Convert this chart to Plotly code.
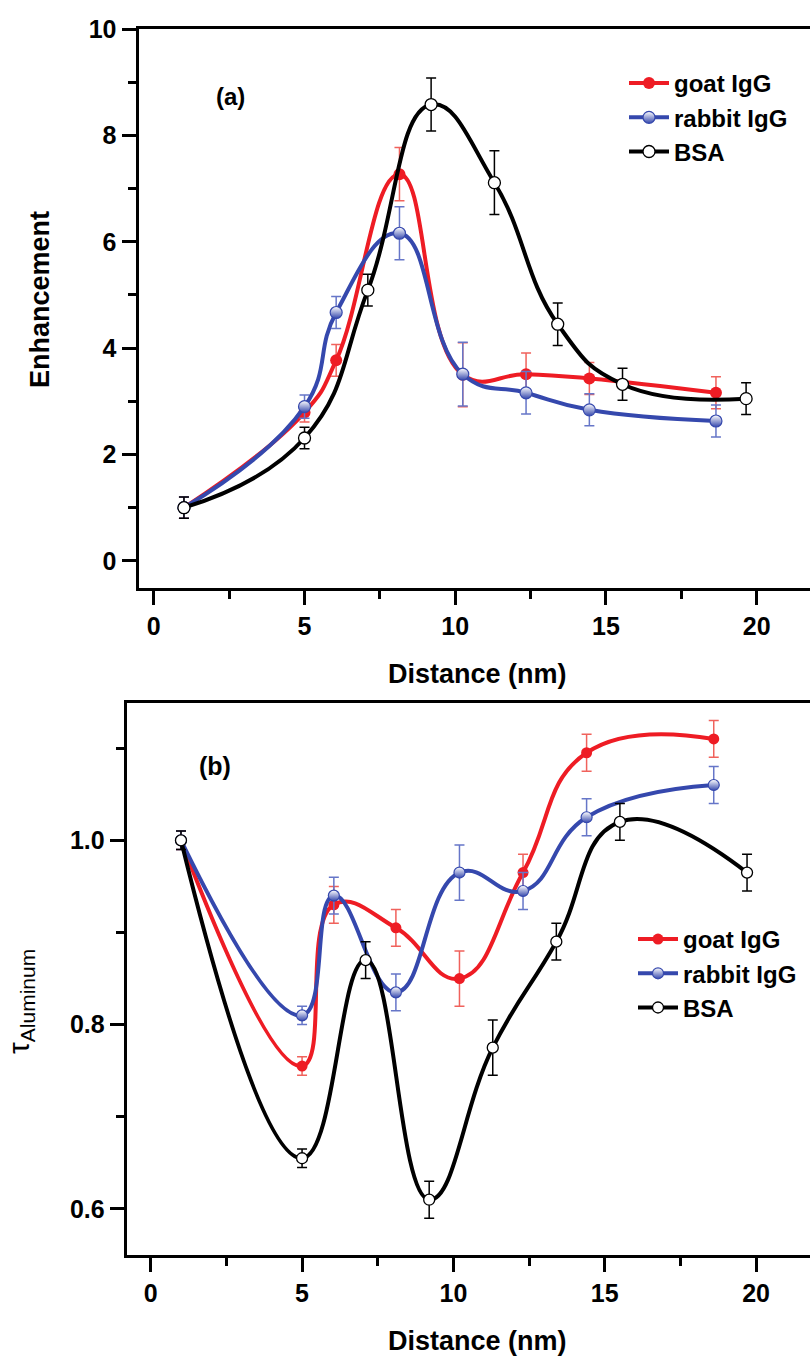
import plotly.graph_objects as go

W, H = 810, 1361

# ---------------- Data: panel (a) Enhancement ----------------
a_goat_x = [1.0, 5.0, 6.05, 8.15, 10.25, 12.35, 14.45, 18.65]
a_goat_y = [1.0, 2.79, 3.77, 7.27, 3.50, 3.51, 3.43, 3.16]
a_goat_err = [0.2, 0.18, 0.3, 0.5, 0.6, 0.4, 0.3, 0.3]

a_rabbit_x = [1.0, 5.0, 6.05, 8.15, 10.25, 12.35, 14.45, 18.65]
a_rabbit_y = [1.0, 2.90, 4.67, 6.16, 3.51, 3.16, 2.84, 2.63]
a_rabbit_err = [0.2, 0.22, 0.3, 0.5, 0.6, 0.4, 0.3, 0.3]

a_bsa_x = [1.0, 5.0, 7.1, 9.2, 11.3, 13.4, 15.55, 19.65]
a_bsa_y = [1.0, 2.31, 5.09, 8.58, 7.11, 4.45, 3.32, 3.05]
a_bsa_err = [0.2, 0.2, 0.3, 0.5, 0.6, 0.4, 0.3, 0.3]

# ---------------- Data: panel (b) tau Aluminum ----------------
b_goat_x = [1.0, 5.0, 6.05, 8.1, 10.2, 12.3, 14.4, 18.6]
b_goat_y = [1.0, 0.755, 0.93, 0.905, 0.85, 0.965, 1.095, 1.11]
b_goat_err = [0.01, 0.01, 0.02, 0.02, 0.03, 0.02, 0.02, 0.02]

b_rabbit_x = [1.0, 5.0, 6.05, 8.1, 10.2, 12.3, 14.4, 18.6]
b_rabbit_y = [1.0, 0.81, 0.94, 0.835, 0.965, 0.945, 1.025, 1.06]
b_rabbit_err = [0.01, 0.01, 0.02, 0.02, 0.03, 0.02, 0.02, 0.02]

b_bsa_x = [1.0, 5.0, 7.1, 9.2, 11.3, 13.4, 15.5, 19.7]
b_bsa_y = [1.0, 0.655, 0.87, 0.61, 0.775, 0.89, 1.02, 0.965]
b_bsa_err = [0.01, 0.01, 0.02, 0.02, 0.03, 0.02, 0.02, 0.02]

series_names = ["goat IgG", "rabbit IgG", "BSA"]

RED = "#ee1c24"
RED_E = "#f0625c"
BLUE = "#3548ad"
BLUE_E = "#6676c8"
BLACK = "#000000"

FONT = "Liberation Sans, Arial, Helvetica, sans-serif"

fig = go.Figure()


def add(x, y, err, name, color, ecolor, marker, xa, ya, legend):
    fig.add_trace(go.Scatter(
        x=x, y=y, mode="lines+markers", name=name,
        line=dict(color=color, width=4, shape="spline", smoothing=1.3),
        marker=marker,
        error_y=dict(type="data", array=err, visible=True, color=ecolor,
                     thickness=1.5, width=5),
        xaxis=xa, yaxis=ya, legend=legend,
    ))


def markers(size):
    return [
        dict(size=size, color=RED, symbol="circle", line=dict(width=0)),
        dict(size=size, color="white", symbol="circle",
             gradient=dict(type="vertical", color=BLUE),
             line=dict(width=1.2, color=BLUE)),
        dict(size=size, color="white", symbol="circle",
             line=dict(width=1.3, color=BLACK)),
    ]

ma = markers(12)
add(a_goat_x, a_goat_y, a_goat_err, series_names[0], RED, RED_E, ma[0], "x", "y", "legend")
add(a_rabbit_x, a_rabbit_y, a_rabbit_err, series_names[1], BLUE, BLUE_E, ma[1], "x", "y", "legend")
add(a_bsa_x, a_bsa_y, a_bsa_err, series_names[2], BLACK, BLACK, ma[2], "x", "y", "legend")

mb = markers(11)
add(b_goat_x, b_goat_y, b_goat_err, series_names[0], RED, RED_E, mb[0], "x2", "y2", "legend2")
add(b_rabbit_x, b_rabbit_y, b_rabbit_err, series_names[1], BLUE, BLUE_E, mb[1], "x2", "y2", "legend2")
add(b_bsa_x, b_bsa_y, b_bsa_err, series_names[2], BLACK, BLACK, mb[2], "x2", "y2", "legend2")

tickfont = dict(family=FONT, size=25, color="black", weight="bold")
common = dict(showline=True, linecolor="black", linewidth=3,
              ticks="outside", ticklen=14, tickwidth=2.5, tickcolor="black",
              showgrid=False, zeroline=False, tickfont=tickfont, automargin=False,
              minor=dict(ticks="outside", ticklen=8, tickwidth=2.5,
                         tickcolor="black", showgrid=False))


def px_x(p):
    return p / W


def px_y(p):
    return 1 - p / H


def label(text, x, y, size, bold=True, angle=0):
    f = dict(family=FONT, size=size, color="black")
    if bold:
        f["weight"] = "bold"
    return dict(text=text, x=px_x(x), y=px_y(y), xref="paper", yref="paper",
                xanchor="center", yanchor="middle", textangle=angle,
                showarrow=False, font=f)


legend_font = dict(family=FONT, size=24, color="black", weight="bold")

fig.update_layout(
    width=W, height=H,
    margin=dict(l=0, r=0, t=0, b=0, autoexpand=False),
    paper_bgcolor="white", plot_bgcolor="white",
    showlegend=True,
    xaxis=dict(**common, domain=[px_x(138.5), 1], range=[-0.508, 21.77],
               dtick=5, tick0=0, minor_dtick=2.5, mirror=True, anchor="y"),
    yaxis=dict(**common, domain=[px_y(588), px_y(29)], range=[-0.51, 10],
               dtick=2, tick0=0, minor_dtick=1, anchor="x"),
    xaxis2=dict(**common, domain=[px_x(126.7), 1], range=[-0.793, 21.78],
                dtick=5, tick0=0, minor_dtick=2.5, mirror=True, anchor="y2"),
    yaxis2=dict(**common, domain=[px_y(1255), px_y(703)], range=[0.55, 1.149],
                dtick=0.2, tick0=0, minor_dtick=0.1, tickformat=".1f", anchor="x2"),
    legend=dict(x=px_x(624), y=px_y(61), xanchor="left", yanchor="top",
                bgcolor="rgba(0,0,0,0)", borderwidth=0, font=legend_font,
                itemwidth=40, tracegroupgap=0),
    legend2=dict(x=px_x(633), y=px_y(917), xanchor="left", yanchor="top",
                 bgcolor="rgba(0,0,0,0)", borderwidth=0, font=legend_font,
                 itemwidth=40, tracegroupgap=0),
    annotations=[
        label("(a)", 230, 96, 24),
        label("(b)", 215, 766, 25),
        label("Enhancement", 40, 300, 27, angle=-90),
        label("Distance (nm)", 477, 674, 27),
        label("Distance (nm)", 477, 1341, 27),
        label("τ<sub>Aluminum</sub>", 20, 1002, 30, bold=False, angle=-90),
    ],
)

fig.write_html(
    "out.html",
    config={"displayModeBar": False},
    post_script="document.body.style.margin='0';document.body.style.overflow='hidden';",
)
